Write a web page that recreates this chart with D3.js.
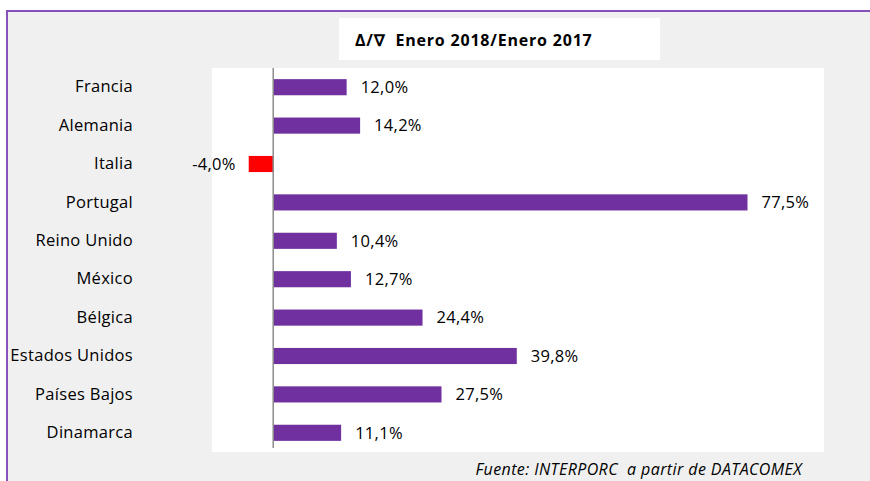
<!DOCTYPE html>
<html>
<head>
<meta charset="utf-8">
<script src="https://cdn.jsdelivr.net/npm/d3@7"></script>
<style>
  html, body { margin: 0; padding: 0; background: #fff; }
  svg { display: block; }
  text { font-family: "Open Sans", "Noto Sans", "Liberation Sans", sans-serif; fill: #000; }
</style>
</head>
<body>
<svg id="chart" width="870" height="481"></svg>
<script>
const countries = ["Francia", "Alemania", "Italia", "Portugal", "Reino Unido", "México",
                   "Bélgica", "Estados Unidos", "Países Bajos", "Dinamarca"];
const change = [12.0, 14.2, -4.0, 77.5, 10.4, 12.7, 24.4, 39.8, 27.5, 11.1];
const titleText = "Δ/∇  Enero 2018/Enero 2017";
const sourceText = "Fuente: INTERPORC  a partir de DATACOMEX";

const svg = d3.select("#chart");
const W = 870, H = 481;
const FONT = '"Open Sans", "Noto Sans", "Liberation Sans", sans-serif';

// outer frame
svg.append("rect").attr("x", 7).attr("y", 11).attr("width", W + 10).attr("height", H + 10)
  .attr("fill", "#f0f0f0").attr("stroke", "#8452b8").attr("stroke-width", 2);

// title box
svg.append("rect").attr("x", 339).attr("y", 18).attr("width", 321).attr("height", 42).attr("fill", "#fff");
svg.append("text").attr("x", 355).attr("y", 46)
  .style("font-size", "16px").style("font-weight", "bold").style("white-space", "pre")
  .style("letter-spacing", "0.8px")
  .attr("xml:space", "preserve").text(titleText);

// plot area
const plot = { left: 212, right: 824, top: 68, bottom: 452 };
svg.append("rect").attr("x", plot.left).attr("y", plot.top)
  .attr("width", plot.right - plot.left).attr("height", plot.bottom - plot.top).attr("fill", "#fff");

const x = d3.scaleLinear().domain([-10, 90]).range([plot.left, plot.right]);
const y = d3.scaleBand().domain(countries).range([plot.top, plot.bottom]).paddingInner(0.58).paddingOuter(0.29);

const rows = countries.map((c, i) => ({ c, v: change[i] }));

svg.append("g").selectAll("rect").data(rows).join("rect")
  .attr("x", d => x(Math.min(0, d.v)))
  .attr("y", d => y(d.c))
  .attr("width", d => Math.abs(x(d.v) - x(0)))
  .attr("height", y.bandwidth())
  .attr("fill", d => d.v < 0 ? "#ff0000" : "#7030a0");

// zero line
svg.append("line").attr("x1", x(0)).attr("x2", x(0))
  .attr("y1", plot.top).attr("y2", plot.bottom - 4)
  .attr("stroke", "#8c8c8c").attr("stroke-width", 1.5);

// category labels
const yAxis = d3.axisLeft(y).tickSize(0).tickPadding(0);
const ga = svg.append("g").attr("transform", `translate(133,0)`).call(yAxis);
ga.select(".domain").remove();
ga.selectAll("text").style("font-size", "16.5px").style("letter-spacing", "0.3px")
  .attr("fill", "#000").style("font-family", FONT);

// value labels (comma decimal, plain hyphen for negatives)
const fmt = v => (v < 0 ? "-" : "") + d3.format(".1f")(Math.abs(v)).replace(".", ",") + "%";
svg.append("g").selectAll("text").data(rows).join("text")
  .attr("x", d => d.v < 0 ? x(d.v) - 13 : x(d.v) + 14)
  .attr("y", d => y(d.c) + y.bandwidth() / 2)
  .attr("dy", "0.35em")
  .attr("text-anchor", d => d.v < 0 ? "end" : "start")
  .style("font-size", "16.5px").style("letter-spacing", "0.3px")
  .text(d => fmt(d.v));

// source note
svg.append("text").attr("x", 802).attr("y", 475).attr("text-anchor", "end")
  .style("font-size", "16px").style("font-style", "italic").style("white-space", "pre")
  .style("letter-spacing", "0.4px")
  .attr("xml:space", "preserve").text(sourceText);
</script>
</body>
</html>
